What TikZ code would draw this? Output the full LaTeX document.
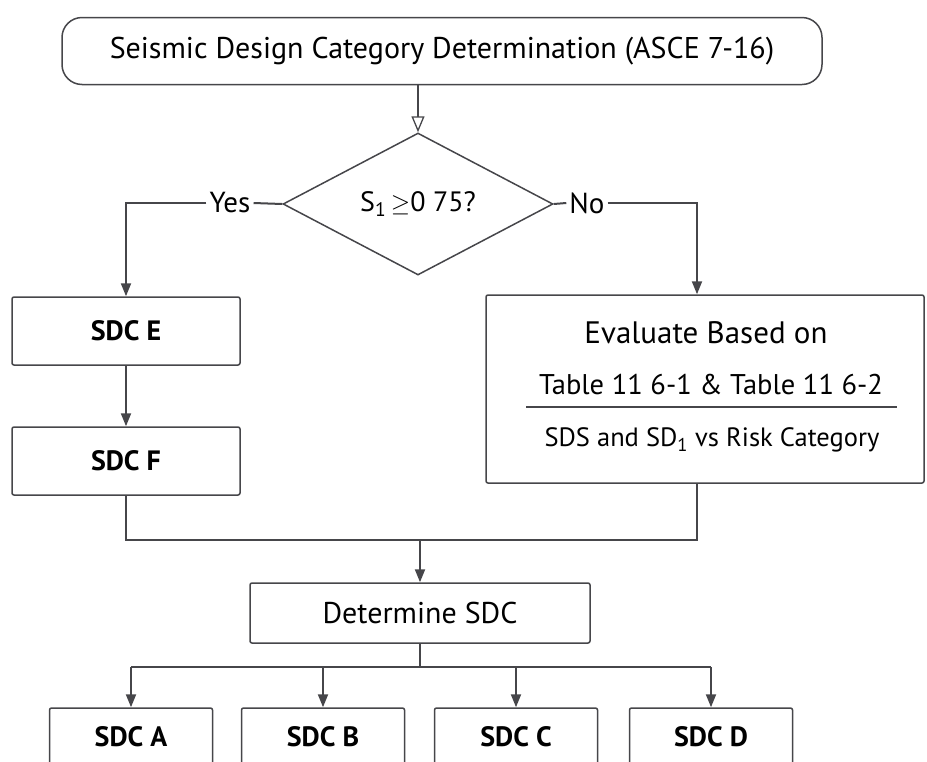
\documentclass[tikz,border=0pt]{standalone}
\usepackage{fontspec}
\setmainfont{PT Sans}
\usetikzlibrary{arrows.meta,shapes.geometric}
\definecolor{inkgray}{HTML}{46464A}
\tikzset{
  box/.style={draw=inkgray, line width=1.5pt, rounded corners=2pt, fill=white, align=center, inner sep=0pt},
  sdcbox/.style={box, minimum width=228pt, minimum height=68pt, font=\fontsize{28}{32}\selectfont\bfseries},
  leafbox/.style={box, minimum width=163pt, minimum height=58pt, font=\fontsize{28}{32}\selectfont\bfseries},
  decision/.style={draw=inkgray, line width=1.5pt, diamond, aspect=1.9, minimum width=270pt, minimum height=142pt, inner sep=0pt, font=\fontsize{28}{32}\selectfont},
  conn/.style={draw=inkgray, line width=2pt, -{Triangle[length=13pt,width=10pt]}},
  plain/.style={draw=inkgray, line width=2pt},
  lbl/.style={font=\fontsize{29}{32}\selectfont, inner sep=3pt}
}
\begin{document}
\begin{tikzpicture}[x=1pt,y=-1pt]
  \useasboundingbox (0,0) rectangle (927,761);
  \clip (0,0) rectangle (927,761);
  % title and decision
  \node[box, rounded corners=20pt, minimum width=760pt, minimum height=67pt, font=\fontsize{30}{34}\selectfont] (title) at (442,51) {Seismic Design Category Determination (ASCE 7-16)};
  \node[decision] (dec) at (418,204) {S\textsubscript{1}\,${\geq}$0 75?};
  \draw[draw=inkgray, line width=1.3pt, -{Triangle[open, length=16pt, width=13pt]}] (dec.north |- title.south) -- (dec.north);
  % branches
  \node[lbl] (yes) at (230,203) {Yes};
  \node[lbl] (no) at (587,203) {No};
  \node[sdcbox] (sdcE) at (126,331) {SDC E};
  \node[sdcbox] (sdcF) at (126,461) {SDC F};
  \node[box, minimum width=438pt, minimum height=188pt] (eval) at (705,389) {};
  \node[font=\fontsize{31}{34}\selectfont] (evalA) at (706,333) {Evaluate Based on};
  \node[font=\fontsize{28.5}{32}\selectfont] (evalB) at (711,385) {Table 11 6-1 \& Table 11 6-2};
  \node[font=\fontsize{26.5}{30}\selectfont] (evalC) at (712,440) {SDS and SD\textsubscript{1} vs Risk Category};
  \draw[draw=inkgray, line width=1.2pt] (526,407) -- (897,407);
  \draw[plain] (dec.west) -- (yes.east);
  \draw[conn] (yes.west) -| (sdcE.north);
  \draw[plain] (dec.east) -- (no.west);
  \draw[conn] (no.east) -| ([xshift=-8pt]eval.north);
  \draw[conn] (sdcE) -- (sdcF);
  % merge
  \coordinate (merge) at (420,540);
  \node[box, minimum width=340pt, minimum height=60pt, font=\fontsize{30}{34}\selectfont] (det) at (420,613) {Determine SDC};
  \draw[plain] (sdcF.south) |- ([xshift=-8pt]eval.south |- merge) -- ([xshift=-8pt]eval.south);
  \draw[conn] (merge) -- (det.north);
  % final categories
  \coordinate (split) at (420,667);
  \node[leafbox] (sdcA) at (131,737) {SDC A};
  \node[leafbox] (sdcB) at (323,737) {SDC B};
  \node[leafbox] (sdcC) at (516,737) {SDC C};
  \node[leafbox] (sdcD) at (711,737) {SDC D};
  \draw[plain] (det.south) -- (split);
  \draw[plain] (sdcA.north |- split) -- (sdcD.north |- split);
  \foreach \n in {A,B,C,D}
    \draw[conn] (sdc\n.north |- split) -- (sdc\n.north);
\end{tikzpicture}
\end{document}
